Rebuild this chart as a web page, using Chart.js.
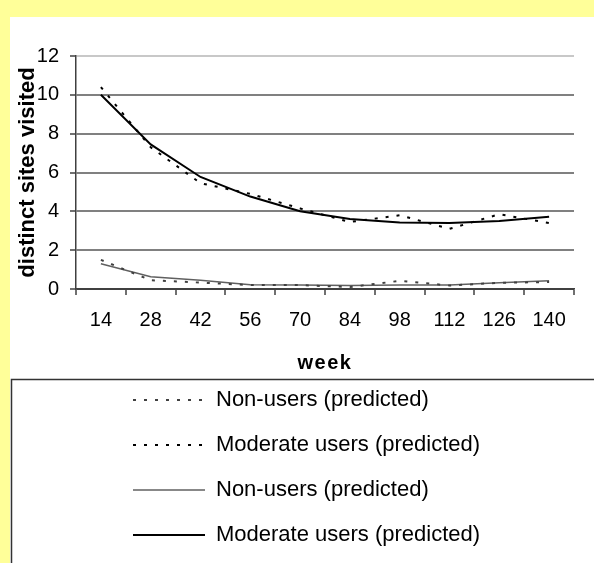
<!DOCTYPE html>
<html>
<head>
<meta charset="utf-8">
<script src="https://cdn.jsdelivr.net/npm/chart.js@4.4.1/dist/chart.umd.min.js"></script>
<style>
  body { margin: 0; background: #ffff99; }
  canvas { display: block; }
</style>
</head>
<body>
<canvas id="graficoSitios" width="594" height="563"></canvas>
<script>
// semanas (categorias del eje x)
const weeks = ['14', '28', '42', '56', '70', '84', '98', '112', '126', '140'];
// series punteadas
const nonUsersDashed = [1.5, 0.45, 0.33, 0.2, 0.2, 0.1, 0.42, 0.18, 0.32, 0.36];
const moderateDashed = [10.4, 7.3, 5.45, 4.9, 4.15, 3.45, 3.8, 3.1, 3.85, 3.4];
// series continuas
const nonUsersSolid = [1.3, 0.63, 0.45, 0.22, 0.2, 0.18, 0.2, 0.2, 0.32, 0.42];
const moderateSolid = [10.0, 7.45, 5.77, 4.76, 4.0, 3.6, 3.42, 3.4, 3.5, 3.72];

const fuente = 'Arial, "Liberation Sans", sans-serif';

const fondo = {
    id: 'fondo',
    beforeDraw(chart) {
        const c = chart.ctx;
        c.save();
        c.fillStyle = '#ffff99';
        c.fillRect(0, 0, chart.width, chart.height);
        c.fillStyle = '#ffffff';
        c.fillRect(10, 17, chart.width - 10, chart.height - 17);
        // recuadro de la leyenda
        c.strokeStyle = '#333333';
        c.lineWidth = 1.5;
        c.beginPath();
        c.moveTo(11.5, chart.height);
        c.lineTo(11.5, 379.5);
        c.lineTo(chart.width, 379.5);
        c.stroke();
        c.restore();

        // espaciado de letras del titulo "week"
        const sx = chart.scales.x;
        if (!sx._espaciado) {
            const orig = sx.drawTitle;
            sx.drawTitle = function() {
                this.ctx.save();
                this.ctx.letterSpacing = '1.5px';
                orig.call(this);
                this.ctx.restore();
            };
            sx._espaciado = true;
        }
    },
    afterLayout(chart) {
        chart.legend.left = 110;
        chart.legend.top = 366;
    }
};

const ctx = document.getElementById('graficoSitios').getContext('2d');
new Chart(ctx, {
    type: 'line',
    data: {
        labels: weeks,
        datasets: [
            {
                label: 'Non-users (predicted)',
                data: nonUsersDashed,
                borderColor: '#404040',
                borderWidth: 2,
                borderDash: [3, 8],
                pointRadius: 0,
                fill: false,
                tension: 0
            },
            {
                label: 'Moderate users (predicted)',
                data: moderateDashed,
                borderColor: '#000000',
                borderWidth: 2,
                borderDash: [3, 8],
                pointRadius: 0,
                fill: false,
                tension: 0
            },
            {
                label: 'Non-users (predicted)',
                data: nonUsersSolid,
                borderColor: '#606060',
                borderWidth: 1.5,
                pointRadius: 0,
                fill: false,
                tension: 0
            },
            {
                label: 'Moderate users (predicted)',
                data: moderateSolid,
                borderColor: '#000000',
                borderWidth: 2,
                pointRadius: 0,
                fill: false,
                tension: 0
            }
        ]
    },
    options: {
        responsive: false,
        animation: false,
        layout: { padding: { left: 17, right: 20, top: 56, bottom: 0 } },
        plugins: {
            tooltip: { enabled: false },
            legend: {
                position: 'bottom',
                align: 'start',
                labels: {
                    usePointStyle: true,
                    pointStyle: 'line',
                    pointStyleWidth: 72,
                    padding: 23,
                    color: '#000000',
                    font: { family: fuente, size: 22 },
                    generateLabels: chart => chart.data.datasets.map((ds, i) => ({
                        text: ds.label,
                        strokeStyle: ds.borderColor,
                        fillStyle: ds.borderColor,
                        lineWidth: ds.borderWidth,
                        lineDash: ds.borderDash || [],
                        lineCap: 'butt',
                        pointStyle: 'line',
                        hidden: false,
                        datasetIndex: i
                    }))
                }
            }
        },
        scales: {
            x: {
                offset: true,
                grid: {
                    offset: true,
                    color: c => c.index === weeks.length ? '#c8c8c8' : 'rgba(0,0,0,0)',
                    lineWidth: 2,
                    tickColor: '#404040',
                    tickLength: 6,
                    tickWidth: 1.5
                },
                border: { color: '#404040', width: 1.5 },
                ticks: {
                    color: '#000000',
                    font: { family: fuente, size: 20 },
                    padding: 13,
                    maxRotation: 0,
                    autoSkip: false
                },
                title: {
                    display: true,
                    text: 'week',
                    color: '#000000',
                    font: { family: fuente, size: 20, weight: 'bold', lineHeight: 1 },
                    padding: { top: 0, bottom: 0 }
                },
                afterFit: s => { s.height = 84; }
            },
            y: {
                min: 0,
                max: 12,
                ticks: {
                    stepSize: 2,
                    color: '#000000',
                    font: { family: fuente, size: 20 },
                    padding: 11
                },
                grid: {
                    color: c => c.tick.value === 12 ? '#c8c8c8' : (c.tick.value === 0 ? '#404040' : '#808080'),
                    lineWidth: 2,
                    tickColor: '#404040',
                    tickLength: 6,
                    tickWidth: 1.5
                },
                border: { color: '#404040', width: 1.5 },
                title: {
                    display: true,
                    text: 'distinct sites visited',
                    color: '#000000',
                    font: { family: fuente, size: 22, weight: 'bold', lineHeight: 1 },
                    padding: 0
                },
                afterFit: s => { s.width = 59; }
            }
        }
    },
    plugins: [fondo]
});
</script>
</body>
</html>
